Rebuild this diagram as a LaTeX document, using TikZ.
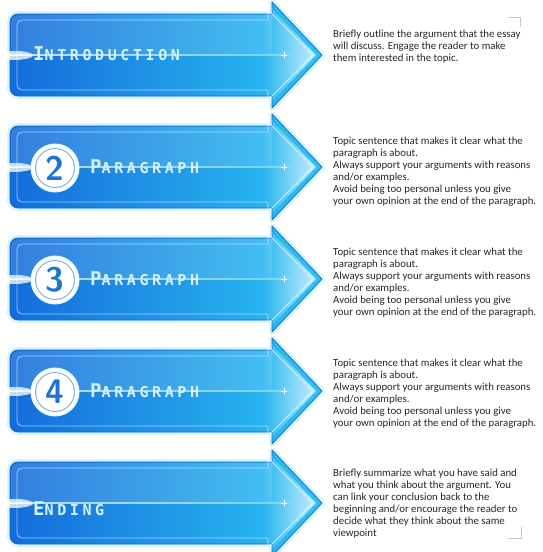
\documentclass[tikz,border=0pt]{standalone}
\usepackage{fontspec}
\setmainfont{Carlito}
\newfontfamily\labelfont[LetterSpace=24, BoldFont={DejaVu Sans Mono Bold}]{DejaVu Sans Mono}
\usetikzlibrary{positioning, fadings, shapes}

\definecolor{arrowdark}{HTML}{146CDA}
\definecolor{arrowlight}{HTML}{2CC4F4}
\definecolor{arrowedge}{HTML}{1566C8}
\definecolor{labelblue}{HTML}{D4F2FF}
\definecolor{numblue}{HTML}{1E74D4}

\tikzfading[name=tip fade, left color=transparent!100, right color=transparent!15]
\newcommand{\firstcap}[1]{{\fontsize{19}{19}\selectfont #1}}

\tikzset{
    every node/.style={font=\small},
    arrow glow/.style={draw=arrowlight, line width=6pt, opacity=0.18, line join=round},
    arrow body/.style={left color=arrowdark, right color=arrowlight, draw=arrowedge,
      line width=0.7pt, line join=round},
    inner rim/.style={draw=white, opacity=0.6, line width=0.8pt, line join=round},
    step label/.style={font=\labelfont\bfseries\fontsize{15}{15}\selectfont, text=labelblue,
      anchor=base west, inner sep=0pt},
    num circle/.style={circle, fill=white, draw=white!85!arrowlight, line width=1pt, minimum size=48pt,
      inner sep=0pt, text=numblue, font=\sffamily\bfseries\fontsize{34}{34}\selectfont},
    note/.style={anchor=north west, align=left, inner sep=0pt,
      font=\fontsize{10.8}{12}\selectfont, text=black!85},
    corner mark/.style={draw=black!22, line width=0.8pt}
}

\begin{document}
\begin{tikzpicture}[x=1pt, y=-1pt]
  \useasboundingbox (0,0) rectangle (542,552);

  % the five arrows
  \foreach \cy in {55,167,279,391,503} {
    \path[arrow glow] (272,\cy-41) [rounded corners=8pt] -- (10,\cy-41) -- (10,\cy+41)
      [sharp corners] -- (272,\cy+41) -- (272,\cy+53) -- (322,\cy) -- (272,\cy-53) -- cycle;
    \path[arrow body] (272,\cy-41) [rounded corners=8pt] -- (10,\cy-41) -- (10,\cy+41)
      [sharp corners] -- (272,\cy+41) -- (272,\cy+53) -- (322,\cy) -- (272,\cy-53) -- cycle;
    \fill[white, opacity=0.13] (11,\cy-40) [rounded corners=7pt] -- (11,\cy) [sharp corners] -- (272,\cy)
      -- (272,\cy-40) [rounded corners=7pt] -- cycle;
    \fill[white, path fading=tip fade, opacity=0.85] (262,\cy-46) -- (272,\cy-46) -- (316,\cy)
      -- (272,\cy+46) -- (262,\cy+46) -- cycle;
    \draw[inner rim] (268,\cy-35) [rounded corners=5pt] -- (17,\cy-35) -- (17,\cy+35)
      [sharp corners] -- (268,\cy+35) -- (268,\cy+45) -- (313,\cy) -- (268,\cy-45) -- cycle;
    \shade[left color=white, right color=white!40!arrowlight, opacity=0.75] (6,\cy-0.8) rectangle (300,\cy+0.8);
    \fill[white, opacity=0.75, path fading=circle with fuzzy edge 15 percent] (14,\cy) ellipse (20 and 5);
    \draw[white, line width=0.8pt] (281,\cy) -- (287,\cy) (284,\cy-3) -- (284,\cy+3);
  }

  % labels
  \node[step label] (intro) at (33,60) {\firstcap{I}NTRODUCTION};
  \node[num circle] (c2) at (55,168) {2};
  \node[step label] (par2) at (90,173) {\firstcap{P}ARAGRAPH};
  \node[num circle] (c3) at (55,280) {3};
  \node[step label] (par3) at (90,285) {\firstcap{P}ARAGRAPH};
  \node[num circle] (c4) at (55,392) {4};
  \node[step label] (par4) at (90,397) {\firstcap{P}ARAGRAPH};
  \node[step label] (ending) at (33,515) {\firstcap{E}NDING};
  \foreach \c in {c2,c3,c4}
    \draw[numblue!60, line width=0.9pt] (\c) circle (19.5);

  % notes
  \node[note] (n1) at (333,30) {Briefly outline the argument that the essay\\
    will discuss. Engage the reader to make\\them interested in the topic.};
  \foreach \ty/\nm in {137/n2,248/n3,359/n4}
    \node[note] (\nm) at (333,\ty) {Topic sentence that makes it clear what the\\
      paragraph is about.\\Always support your arguments with reasons\\and/or examples.\\
      Avoid being too personal unless you give\\your own opinion at the end of the paragraph.};
  \node[note] (n5) at (333,469) {Briefly summarize what you have said and\\
    what you think about the argument. You\\can link your conclusion back to the\\
    beginning and/or encourage the reader to\\decide what they think about the same\\viewpoint};

  % corner marks
  \draw[corner mark] (508,17) -- (520,17) -- (520,27);
  \draw[corner mark] (521,527) -- (521,538) -- (508,538);
\end{tikzpicture}
\end{document}
